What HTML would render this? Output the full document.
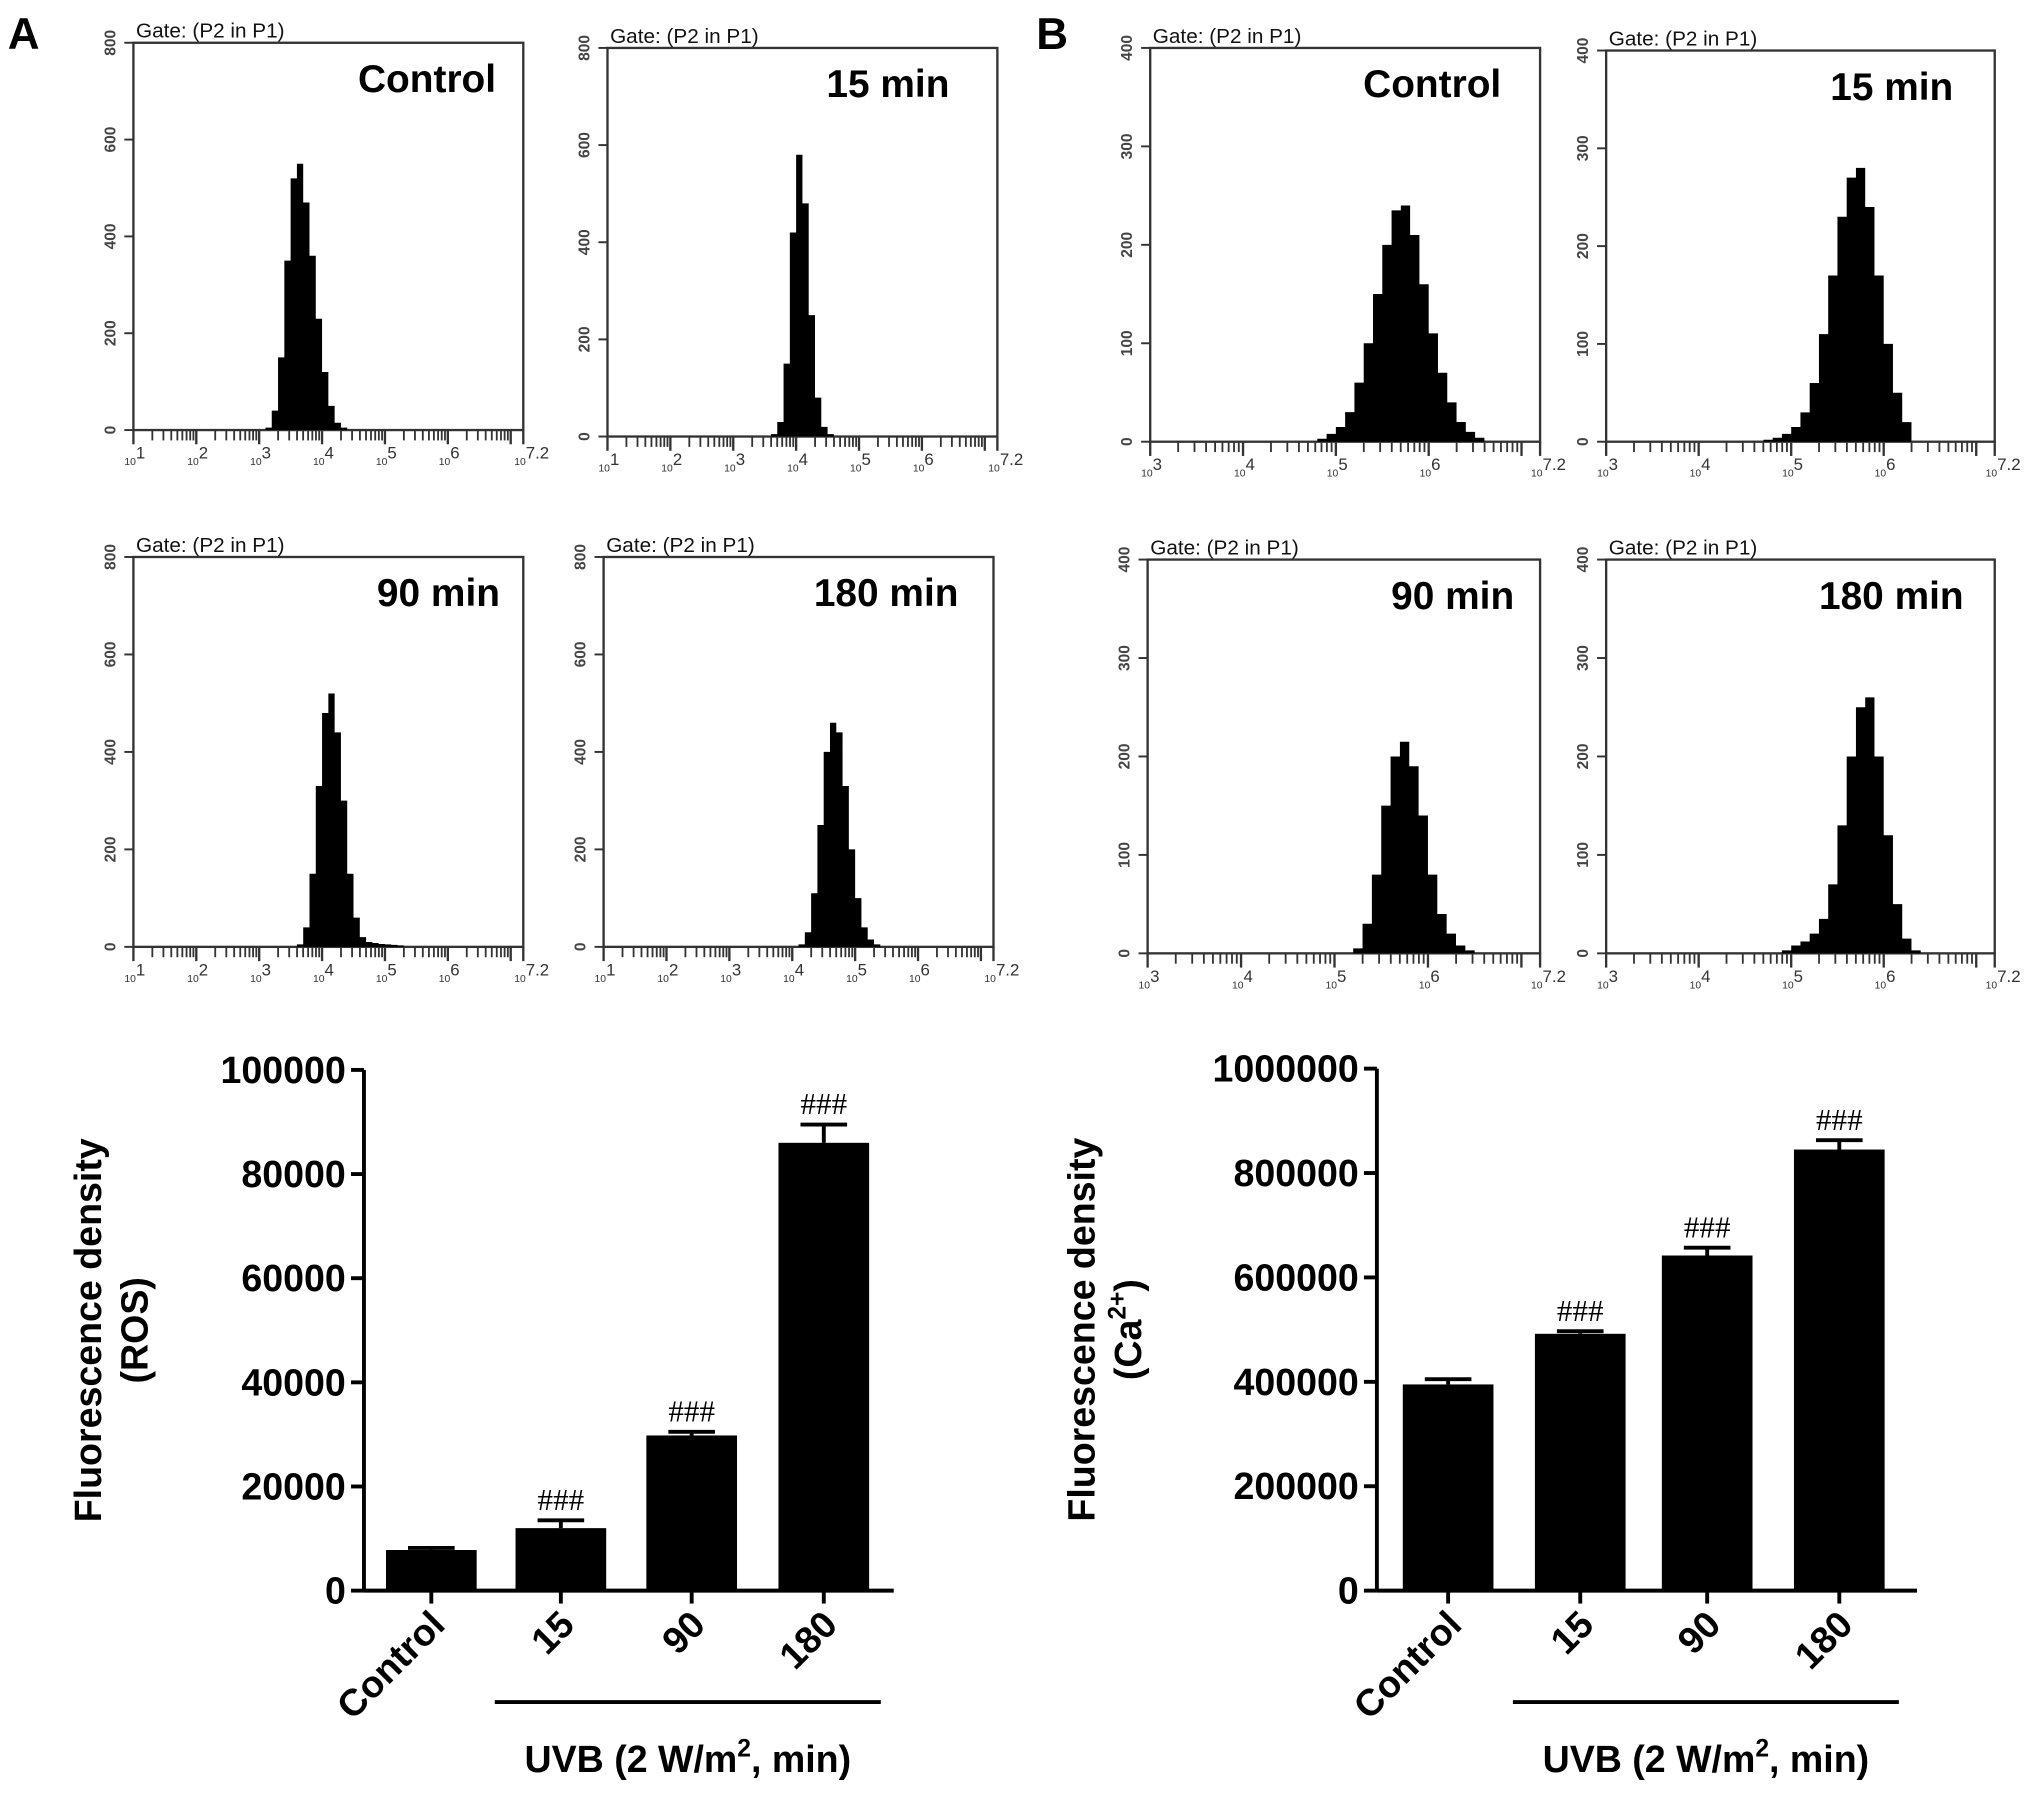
<!DOCTYPE html>
<html><head><meta charset="utf-8">
<style>
html,body{margin:0;padding:0;background:#fff;}
svg{display:block;font-family:"Liberation Sans",Arial,sans-serif;}
</style></head>
<body>
<svg id="fig" width="2031" height="1794" viewBox="0 0 1568 1385" xmlns="http://www.w3.org/2000/svg">
<rect width="1568" height="1385" fill="#fff"/>
<text x="6" y="38" font-size="34" font-weight="bold">A</text>
<text x="800" y="38" font-size="34" font-weight="bold">B</text>
<g id="hists"></g>
<g id="bars"></g>
</svg>
<script>
// ---- Histogram data (log10 bins of width 0.1) ----
const histTitles = ["Control","15 min","90 min","180 min","Control","15 min","90 min","180 min"];
const histStarts = [3.1, 3.6, 3.6, 4.1, 4.8, 4.7, 5.2, 4.9];
const histA1 = [5,40,150,350,520,550,470,360,230,120,50,15,5];
const histA2 = [5,30,150,420,580,480,250,80,20,5];
const histA3 = [5,40,150,330,480,520,440,300,150,60,20,10,8,6,5,4,3];
const histA4 = [5,30,110,250,400,460,440,330,200,100,40,15,5];
const histB1 = [3,8,15,30,60,100,150,200,235,240,210,160,110,70,40,20,10,4];
const histB2 = [2,4,8,15,30,60,110,170,230,270,280,240,170,100,50,20];
const histB3 = [5,30,80,150,200,215,190,140,80,40,20,8,3];
const histB4 = [3,8,12,20,35,70,130,200,250,260,200,120,50,15,3];
const histYTicksA = [0,200,400,600,800];
const histYTicksB = [0,100,200,300,400];

// ---- Bar chart data ----
const barCats = ["Control","15","90","180"];
const rosVals = [7800,12000,29800,86000];
const rosErr = [400,1500,700,3500];
const rosTicks = [0,20000,40000,60000,80000,100000];
const caVals = [395000,492000,642000,845000];
const caErr = [10000,5000,15000,18000];
const caTicks = [0,200000,400000,600000,800000,1000000];
const sigMarks = ["","###","###","###"];

const NS="http://www.w3.org/2000/svg";
function el(tag, attrs, parent, text){
  const e=document.createElementNS(NS,tag);
  for(const k in attrs) e.setAttribute(k,attrs[k]);
  if(text!==undefined) e.textContent=text;
  parent.appendChild(e); return e;
}
const XLA=["1","2","3","4","5","6","7.2"], XLB=["3","4","5","6","7.2"];
const panels=[
 {x0:103,x1:404,y0:33,y1:332,lmin:1,ymax:800,data:histA1,ticks:histYTicksA,xl:XLA,off:21},
 {x0:469,x1:770,y0:37,y1:337,lmin:1,ymax:800,data:histA2,ticks:histYTicksA,xl:XLA,off:37},
 {x0:103,x1:404,y0:430,y1:731,lmin:1,ymax:800,data:histA3,ticks:histYTicksA,xl:XLA,off:18},
 {x0:466,x1:767,y0:430,y1:731,lmin:1,ymax:800,data:histA4,ticks:histYTicksA,xl:XLA,off:27},
 {x0:888,x1:1189,y0:37,y1:341,lmin:3,ymax:400,data:histB1,ticks:histYTicksB,xl:XLB,off:30},
 {x0:1240,x1:1540,y0:39,y1:341,lmin:3,ymax:400,data:histB2,ticks:histYTicksB,xl:XLB,off:32},
 {x0:886,x1:1189,y0:432,y1:736,lmin:3,ymax:400,data:histB3,ticks:histYTicksB,xl:XLB,off:20},
 {x0:1240,x1:1540,y0:432,y1:736,lmin:3,ymax:400,data:histB4,ticks:histYTicksB,xl:XLB,off:24}
];
const hg=document.getElementById('hists');
panels.forEach((p,i)=>{
  const g=el('g',{},hg);
  
  
  const xs=l=>p.x0+(l-p.lmin)/(7.2-p.lmin)*(p.x1-p.x0);
  const ys=v=>p.y1-v/p.ymax*(p.y1-p.y0);
  el('rect',{x:p.x0,y:p.y0,width:p.x1-p.x0,height:p.y1-p.y0,fill:'none',stroke:'#333','stroke-width':1.8},g);
  const gate=el('text',{x:p.x0+2,y:p.y0-4,'font-size':16,fill:'#111'},g,'Gate: (P2 in P1)');
  
  
  const t=el('text',{x:p.x1-p.off,y:p.y0+38,'font-size':30,'font-weight':'bold','text-anchor':'end'},g,histTitles[i]);
  
  
  let d='M'+xs(histStarts[i])+','+ys(0);
  p.data.forEach((v,k)=>{
    const a=xs(histStarts[i]+k*0.1), b=xs(histStarts[i]+(k+1)*0.1);
    d+=' L'+a+','+ys(v)+' L'+b+','+ys(v);
  });
  d+=' L'+xs(histStarts[i]+p.data.length*0.1)+','+ys(0)+' Z';
  const h=el('path',{d:d,fill:'#000'},g);
  
  
  p.ticks.forEach(v=>{
    el('line',{x1:p.x0-7,x2:p.x0,y1:ys(v),y2:ys(v),stroke:'#333','stroke-width':1.5},g);
    const tl=el('text',{x:0,y:0,'font-size':12,'font-weight':'bold','text-anchor':'middle',fill:'#444',transform:'translate('+(p.x0-14)+','+ys(v)+') rotate(-90)'},g,String(v));
    
    
  });
  for(let dcd=p.lmin;dcd<7.2;dcd++){
    for(let m=1;m<10;m++){
      const l=dcd+Math.log10(m); if(l>7.2)break;
      el('line',{x1:xs(l),x2:xs(l),y1:p.y1,y2:p.y1+(m===1?11:8),stroke:'#333','stroke-width':m===1?1.8:1.4},g);
    }
  }
  el('line',{x1:p.x1,x2:p.x1,y1:p.y1,y2:p.y1+11,stroke:'#333','stroke-width':1.8},g);
  p.xl.forEach(s=>{
    const l=parseFloat(s);
    const tx=el('text',{x:xs(l)-7,y:p.y1+27,'font-size':13,fill:'#333'},g);
    
    
    el('tspan',{'font-size':8},tx,'10');
    el('tspan',{dy:-5},tx,s);
  });
});

const charts=[
 {ax:281,x1:690,y0:1228,ytop:826,max:100000,vals:rosVals,err:rosErr,ticks:rosTicks,cx:[333,433,534,636],line:[382,680],tx:88,name:'ros'},
 {ax:1063,x1:1480,y0:1228,ytop:825,max:1000000,vals:caVals,err:caErr,ticks:caTicks,cx:[1118,1220,1318,1420],line:[1168,1466],tx:855,name:'calcium'}
];
const bg=document.getElementById('bars');
charts.forEach(c=>{
  const g=el('g',{},bg);
  
  
  const ys=v=>c.y0-v/c.max*(c.y0-c.ytop);
  el('line',{x1:c.ax,x2:c.ax,y1:c.ytop,y2:c.y0,stroke:'#000','stroke-width':3},g);
  el('line',{x1:c.ax,x2:c.x1,y1:c.y0,y2:c.y0,stroke:'#000','stroke-width':3},g);
  c.ticks.forEach(v=>{
    el('line',{x1:c.ax-10,x2:c.ax,y1:ys(v),y2:ys(v),stroke:'#000','stroke-width':3},g);
    const tl=el('text',{x:c.ax-14,y:ys(v)+10,'font-size':29,'font-weight':'bold','text-anchor':'end'},g,String(v));
    
    
  });
  c.vals.forEach((v,k)=>{
    const x=c.cx[k], w=70;
    const b=el('rect',{x:x-w/2,y:ys(v),width:w,height:c.y0-ys(v),fill:'#000'},g);
    
    
    const e=ys(v+c.err[k]);
    el('line',{x1:x,x2:x,y1:e,y2:ys(v),stroke:'#000','stroke-width':3},g);
    el('line',{x1:x-18,x2:x+18,y1:e,y2:e,stroke:'#000','stroke-width':3},g);
    el('line',{x1:x,x2:x,y1:c.y0,y2:c.y0+10,stroke:'#000','stroke-width':3},g);
    if(sigMarks[k]){
      const s=el('text',{x:x,y:e-8,'font-size':24,'text-anchor':'middle','font-family':'Liberation Serif, serif'},g,sigMarks[k]);
      
      
    }
    const lx=x+12, ly=c.y0+28;
    const xl=el('text',{x:0,y:0,'font-size':29,'font-weight':'bold','text-anchor':'end',transform:'translate('+lx+','+ly+') rotate(-45)'},g,barCats[k]);
    
    
  });
  el('line',{x1:c.line[0],x2:c.line[1],y1:1314,y2:1314,stroke:'#000','stroke-width':3},g);
  const u=el('text',{x:(c.line[0]+c.line[1])/2,y:1368,'font-size':29,'font-weight':'bold','text-anchor':'middle'},g);
  
  
  el('tspan',{},u,'UVB (2 W/m');
  el('tspan',{dy:-12,'font-size':19},u,'2');
  el('tspan',{dy:12},u,', min)');
  const yt=el('text',{x:0,y:0,'font-size':29,'font-weight':'bold','text-anchor':'middle',transform:'translate('+(c.tx-10)+','+(c.y0+c.ytop)/2+') rotate(-90)'},g,'Fluorescence density');
  
  
  const y2=el('text',{x:0,y:0,'font-size':29,'font-weight':'bold','text-anchor':'middle',transform:'translate('+(c.tx+26)+','+(c.y0+c.ytop)/2+') rotate(-90)'},g);
  
  
  if(c.name==='ros'){ y2.textContent='(ROS)'; }
  else {
    el('tspan',{},y2,'(Ca');
    el('tspan',{dy:-12,'font-size':19},y2,'2+');
    el('tspan',{dy:12},y2,')');
  }
});
</script>
</body></html>
